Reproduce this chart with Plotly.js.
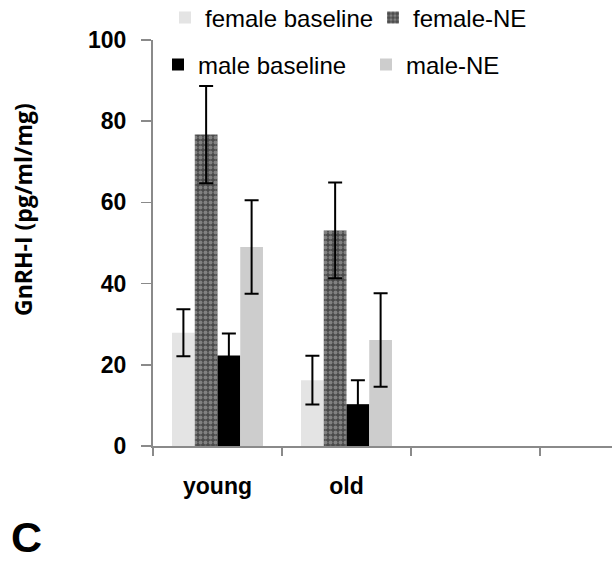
<!DOCTYPE html>
<html>
<head>
<meta charset="utf-8">
<script src="https://cdn.plot.ly/plotly-3.0.1.min.js"></script>
<style>html,body{margin:0;padding:0;background:#fff;}#chart{width:612px;height:564px;}</style>
</head>
<body>
<div id="chart"></div>
<script>
var groups = ['young', 'old'];
var allCategories = ['young', 'old', ' ', '  '];
var seriesNames = ['female baseline', 'female-NE', 'male baseline', 'male-NE'];
var femaleBaseline = [27.9, 16.2];
var femaleBaselineErr = [5.8, 6.0];
var femaleNE = [76.7, 53.1];
var femaleNEErr = [12.0, 11.8];
var maleBaseline = [22.3, 10.3];
var maleBaselineErr = [5.4, 5.9];
var maleNE = [49.0, 26.1];
var maleNEErr = [11.5, 11.5];
var yTickVals = [0, 20, 40, 60, 80, 100];

function errBar(arr) {
  return {type: 'data', array: arr, visible: true, color: '#000', thickness: 2, width: 7};
}

var traces = [
  {type: 'bar', name: seriesNames[0], x: groups, y: femaleBaseline, error_y: errBar(femaleBaselineErr),
   marker: {color: '#e4e4e4'}, legend: 'legend'},
  {type: 'bar', name: seriesNames[1], x: groups, y: femaleNE, error_y: errBar(femaleNEErr),
   marker: {color: '#6a6a6a', pattern: {shape: '.', fgcolor: '#b8b8b8', bgcolor: '#4a4a4a', size: 5, solidity: 0.5, fillmode: 'overlay'}},
   legend: 'legend'},
  {type: 'bar', name: seriesNames[2], x: groups, y: maleBaseline, error_y: errBar(maleBaselineErr),
   marker: {color: '#000000'}, legend: 'legend2'},
  {type: 'bar', name: seriesNames[3], x: groups, y: maleNE, error_y: errBar(maleNEErr),
   marker: {color: '#cdcdcd'}, legend: 'legend2'}
];

var legendCommon = {
  orientation: 'h', xref: 'container', yref: 'container', xanchor: 'left', yanchor: 'middle',
  font: {family: 'Liberation Sans, Arial, sans-serif', size: 24, color: '#000'},
  entrywidth: 163, entrywidthmode: 'pixels', bgcolor: 'rgba(0,0,0,0)', borderwidth: 0,
  itemclick: false, itemdoubleclick: false, traceorder: 'normal'
};

var layout = {
  width: 612, height: 564,
  margin: {l: 153, r: 0, t: 40, b: 118, autoexpand: false},
  paper_bgcolor: '#fff', plot_bgcolor: '#fff',
  barmode: 'group', bargap: 0.295, bargroupgap: 0,
  showlegend: true,
  legend: Object.assign({}, legendCommon, {x: 165 / 612, y: 1 - 18 / 564}),
  legend2: Object.assign({}, legendCommon, {x: 158 / 612, y: 1 - 65 / 564}),
  xaxis: {
    type: 'category', categoryorder: 'array', categoryarray: allCategories,
    range: [-0.5, 3.058], tickson: 'boundaries', ticks: 'outside', ticklen: 8, tickwidth: 2, tickcolor: '#8a8a8a',
    showline: true, linecolor: '#8a8a8a', linewidth: 2, showgrid: false, zeroline: false,
    tickfont: {family: 'Liberation Sans, Arial, sans-serif', size: 23, color: '#000', weight: 'bold'},
    ticklabelstandoff: 18, fixedrange: true
  },
  yaxis: {
    range: [0, 100], tickmode: 'array', tickvals: yTickVals, ticktext: yTickVals.map(String),
    ticks: 'outside', ticklen: 10, tickwidth: 1.5, tickcolor: '#8a8a8a',
    showline: true, linecolor: '#8a8a8a', linewidth: 2, showgrid: false, zeroline: false,
    tickfont: {family: 'Liberation Sans, Arial, sans-serif', size: 23, color: '#000', weight: 'bold'},
    ticklabelstandoff: 10, fixedrange: true
  },
  annotations: [
    {text: 'GnRH-I (pg/ml/mg)', xref: 'paper', yref: 'paper', x: (23 - 153) / 459, y: (446 - 210) / 406,
     xanchor: 'center', yanchor: 'middle', textangle: -90, showarrow: false,
     font: {family: 'Open Sans, sans-serif', size: 23, color: '#000', weight: 'bold'}},
    {text: 'C', xref: 'paper', yref: 'paper', x: (27 - 153) / 459, y: (446 - 537) / 406,
     xanchor: 'center', yanchor: 'middle', showarrow: false,
     font: {family: 'Liberation Sans, Arial, sans-serif', size: 43, color: '#000', weight: 'bold'}}
  ]
};

Plotly.newPlot('chart', traces, layout, {staticPlot: true, displayModeBar: false});
</script>
</body>
</html>
